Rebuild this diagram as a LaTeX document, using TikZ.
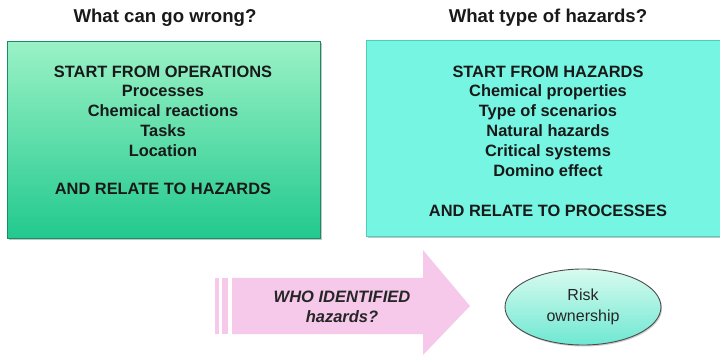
\documentclass[tikz,border=0pt]{standalone}
\usepackage{fontspec}
\setmainfont{Liberation Sans}
\usetikzlibrary{shapes.geometric,shadows}
\definecolor{lgtop}{HTML}{9AF2C6}
\definecolor{lgbot}{HTML}{22C98E}
\definecolor{rfill}{HTML}{76F5E2}
\definecolor{rdraw}{HTML}{4FCDB8}
\definecolor{pinkar}{HTML}{F6C9EA}
\definecolor{elltop}{HTML}{D8FBEF}
\definecolor{ellbot}{HTML}{6EE8D2}
\tikzset{
  boxshadow/.style={drop shadow={shadow xshift=1.5pt,shadow yshift=-1.5pt,fill=black!45,opacity=0.5}},
  boxtext/.style={align=center,font=\bfseries\fontsize{16.4}{19.8}\selectfont,text=black!90},
  titletext/.style={font=\bfseries\fontsize{18.6}{20}\selectfont,text=black!90},
}
\begin{document}
\begin{tikzpicture}[x=1pt,y=-1pt]
\useasboundingbox (0,0) rectangle (720,355);
% titles
\node[titletext] (t1) at (165,18) {What can go wrong?};
\node[titletext] (t2) at (548,18) {What type of hazards?};
% left box
\node[boxshadow,draw=lgbot!70!black,line width=0.6pt,top color=lgtop,bottom color=lgbot,
  minimum width=313pt,minimum height=197pt,anchor=north west] (lbox) at (7,41) {};
\node[boxtext] (ltext) at (163,111) {START FROM OPERATIONS\\Processes\\Chemical reactions\\Tasks\\Location};
\node[boxtext] (lrel) at (163,189) {AND RELATE TO HAZARDS};
% right box
\node[boxshadow,draw=rdraw,line width=0.8pt,fill=rfill,
  minimum width=356pt,minimum height=196pt,anchor=north west] (rbox) at (366,40) {};
\node[boxtext] (rtext) at (548,121) {START FROM HAZARDS\\Chemical properties\\Type of scenarios\\Natural hazards\\Critical systems\\Domino effect};
\node[boxtext] (rrel) at (548,211) {AND RELATE TO PROCESSES};
% arrow
\fill[pinkar] (215,278) rectangle (219,334);
\fill[pinkar] (222,278) rectangle (228,334);
\fill[pinkar] (232,278) -- (423,278) -- (423,250) -- (470,306) -- (423,355) -- (423,334) -- (232,334) -- cycle;
\node[align=center,font=\bfseries\itshape\fontsize{16.5}{20}\selectfont,text=black!85] (who) at (342,307) {WHO IDENTIFIED\\hazards?};
% ellipse
\node[ellipse,draw=black!70,line width=0.9pt,top color=elltop,bottom color=ellbot,
  minimum width=156pt,minimum height=76pt,inner sep=0pt,align=center,
  font=\fontsize{16}{21}\selectfont,text=black!85,
  drop shadow={shadow xshift=1pt,shadow yshift=-1.5pt,fill=black!40,opacity=0.5}] (risk) at (583,307) {Risk\\ownership};
\end{tikzpicture}
\end{document}
